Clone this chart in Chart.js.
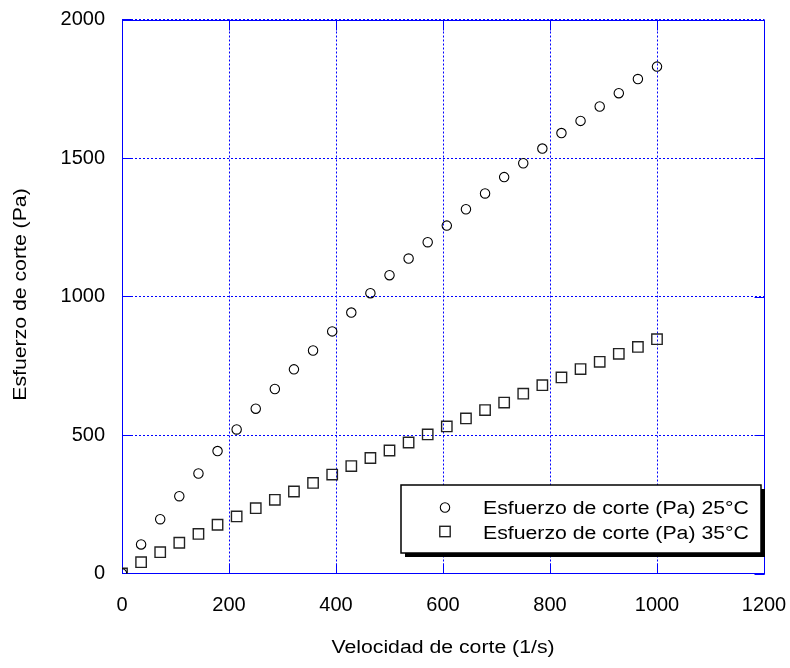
<!DOCTYPE html>
<html lang="es">
<head>
<meta charset="utf-8">
<title>Esfuerzo de corte vs. velocidad de corte</title>
<script src="https://cdn.jsdelivr.net/npm/chart.js"></script>
<style>
  html, body { margin: 0; padding: 0; background: #ffffff; }
  #wrap { width: 790px; height: 668px; }
  canvas { display: block; }
</style>
</head>
<body>
<div id="wrap"><canvas id="chart" width="790" height="668"></canvas></div>
<script>
// Shear rate (1/s)
const shearRate = [0, 35.7, 71.4, 107.1, 142.9, 178.6, 214.3, 250, 285.7, 321.4,
  357.1, 392.9, 428.6, 464.3, 500, 535.7, 571.4, 607.1, 642.9, 678.6,
  714.3, 750, 785.7, 821.4, 857.1, 892.9, 928.6, 964.3, 1000];

// Shear stress (Pa) at 25 °C
const stress25 = [0, 105, 196, 279, 361, 442, 520, 595, 666, 737,
  805, 874, 942, 1012, 1077, 1137, 1196, 1256, 1315, 1372,
  1431, 1481, 1534, 1590, 1634, 1686, 1734, 1785, 1830];

// Shear stress (Pa) at 35 °C
const stress35 = [0, 41, 77, 111, 143, 176, 206, 236, 266, 296,
  327, 357, 388, 417, 444, 473, 502, 531, 560, 590,
  617, 649, 680, 708, 738, 764, 793, 818, 846];

const seriesLabels = ['Esfuerzo de corte (Pa) 25°C', 'Esfuerzo de corte (Pa) 35°C'];
const xTitle = 'Velocidad de corte (1/s)';
const yTitle = 'Esfuerzo de corte (Pa)';

const xRange = [0, 1200];
const yRange = [0, 2000];
const xStep = 200;
const yStep = 500;

const FONT = 'Arial, "Liberation Sans", Helvetica, sans-serif';
const BLUE = '#0000ff';
const TICK_IN = 10;

function toPoints(xs, ys) {
  return xs.map((x, i) => ({ x: x, y: ys[i] }));
}

// Draws a stretched text run (the titles and legend use a wide face)
function wideText(ctx, text, x, y, size, stretch, align) {
  ctx.save();
  ctx.translate(x, y);
  ctx.scale(stretch, 1);
  ctx.font = size + 'px ' + FONT;
  ctx.fillStyle = '#000';
  ctx.textAlign = align;
  ctx.textBaseline = 'alphabetic';
  ctx.fillText(text, 0, 0);
  ctx.restore();
}

// Top and right edges of the frame, with inward tick marks
const frame = {
  id: 'frame',
  beforeDatasetsDraw(chart) {
    const ctx = chart.ctx;
    const a = chart.chartArea;
    const xs = chart.scales.x, ys = chart.scales.y;
    const top = Math.round(a.top) + 0.5;
    const right = Math.round(a.right) + 0.5;
    ctx.save();
    ctx.strokeStyle = BLUE;
    ctx.lineWidth = 1;
    ctx.setLineDash([]);
    ctx.beginPath();
    ctx.moveTo(Math.round(a.left) + 0.5, top);
    ctx.lineTo(right, top);
    ctx.lineTo(right, Math.round(a.bottom) + 0.5);
    xs.ticks.forEach(t => {
      const px = Math.round(xs.getPixelForValue(t.value)) + 0.5;
      ctx.moveTo(px, top);
      ctx.lineTo(px, top + TICK_IN);
    });
    ys.ticks.forEach(t => {
      const py = Math.round(ys.getPixelForValue(t.value)) + 0.5;
      ctx.moveTo(right, py);
      ctx.lineTo(right - TICK_IN, py);
    });
    ctx.stroke();
    ctx.restore();
  }
};

const decorations = {
  id: 'decorations',
  afterDraw(chart) {
    const ctx = chart.ctx;
    const area = chart.chartArea;

    // Axis titles
    wideText(ctx, xTitle, (area.left + area.right) / 2, 653, 18, 1.18, 'center');
    ctx.save();
    ctx.translate(26, (area.top + area.bottom) / 2 - 2);
    ctx.rotate(-Math.PI / 2);
    wideText(ctx, yTitle, 0, 0, 18, 1.18, 'center');
    ctx.restore();

    // Legend box with drop shadow, lower right of the plot
    const bx = 401, by = 485, bw = 360, bh = 68;
    ctx.save();
    ctx.fillStyle = '#000';
    ctx.fillRect(bx + 4, by + 4, bw, bh);
    ctx.fillStyle = '#fff';
    ctx.fillRect(bx, by, bw, bh);
    ctx.strokeStyle = '#000';
    ctx.lineWidth = 1.5;
    ctx.strokeRect(bx, by, bw, bh);

    // Legend markers
    ctx.lineWidth = 1.1;
    ctx.beginPath();
    ctx.arc(445, 507.5, 4.7, 0, Math.PI * 2);
    ctx.stroke();
    ctx.strokeStyle = '#222';
    ctx.lineWidth = 1.4;
    ctx.strokeRect(445 - 5.2, 531.5 - 5.2, 10.4, 10.4);
    ctx.restore();

    wideText(ctx, seriesLabels[0], 483, 514, 18, 1.18, 'left');
    wideText(ctx, seriesLabels[1], 483, 538.5, 18, 1.18, 'left');
  }
};

const gridCommon = {
  color: BLUE,
  lineWidth: 1,
  drawTicks: true,
  tickLength: -TICK_IN,
  tickColor: BLUE,
  tickWidth: 1,
  tickBorderDash: []
};

const borderCommon = {
  display: true,
  color: BLUE,
  width: 1,
  dash: [2, 2]
};

const plainNumber = v => String(v);

new Chart(document.getElementById('chart'), {
  type: 'scatter',
  data: {
    datasets: [
      {
        label: seriesLabels[0],
        data: toPoints(shearRate, stress25),
        pointStyle: 'circle',
        pointRadius: 4.7,
        pointHoverRadius: 4.7,
        borderWidth: 1.1,
        borderColor: '#000',
        backgroundColor: 'rgba(0,0,0,0)'
      },
      {
        label: seriesLabels[1],
        data: toPoints(shearRate, stress35),
        pointStyle: 'rect',
        pointRadius: 7.35,
        pointHoverRadius: 7.35,
        borderWidth: 1.4,
        borderColor: '#222',
        backgroundColor: 'rgba(0,0,0,0)'
      }
    ]
  },
  options: {
    responsive: false,
    animation: false,
    devicePixelRatio: 1,
    layout: { padding: { top: 19.5, right: 26, bottom: 0, left: 0 } },
    plugins: {
      legend: { display: false },
      tooltip: { enabled: false },
      title: { display: false }
    },
    scales: {
      x: {
        type: 'linear',
        position: 'bottom',
        min: xRange[0],
        max: xRange[1],
        ticks: {
          stepSize: xStep,
          padding: 29.5,
          color: '#000',
          font: { family: FONT, size: 20 },
          callback: plainNumber
        },
        grid: gridCommon,
        border: borderCommon,
        afterFit(scale) {
          scale.height = 94.5;
          scale.paddingLeft = 0;
          scale.paddingRight = 0;
        }
      },
      y: {
        type: 'linear',
        position: 'left',
        min: yRange[0],
        max: yRange[1],
        ticks: {
          stepSize: yStep,
          padding: 27,
          color: '#000',
          font: { family: FONT, size: 20 },
          callback: plainNumber
        },
        grid: gridCommon,
        border: borderCommon,
        afterFit(scale) {
          scale.width = 122;
          scale.paddingTop = 0;
          scale.paddingBottom = 0;
        }
      }
    }
  },
  plugins: [frame, decorations]
});
</script>
</body>
</html>
